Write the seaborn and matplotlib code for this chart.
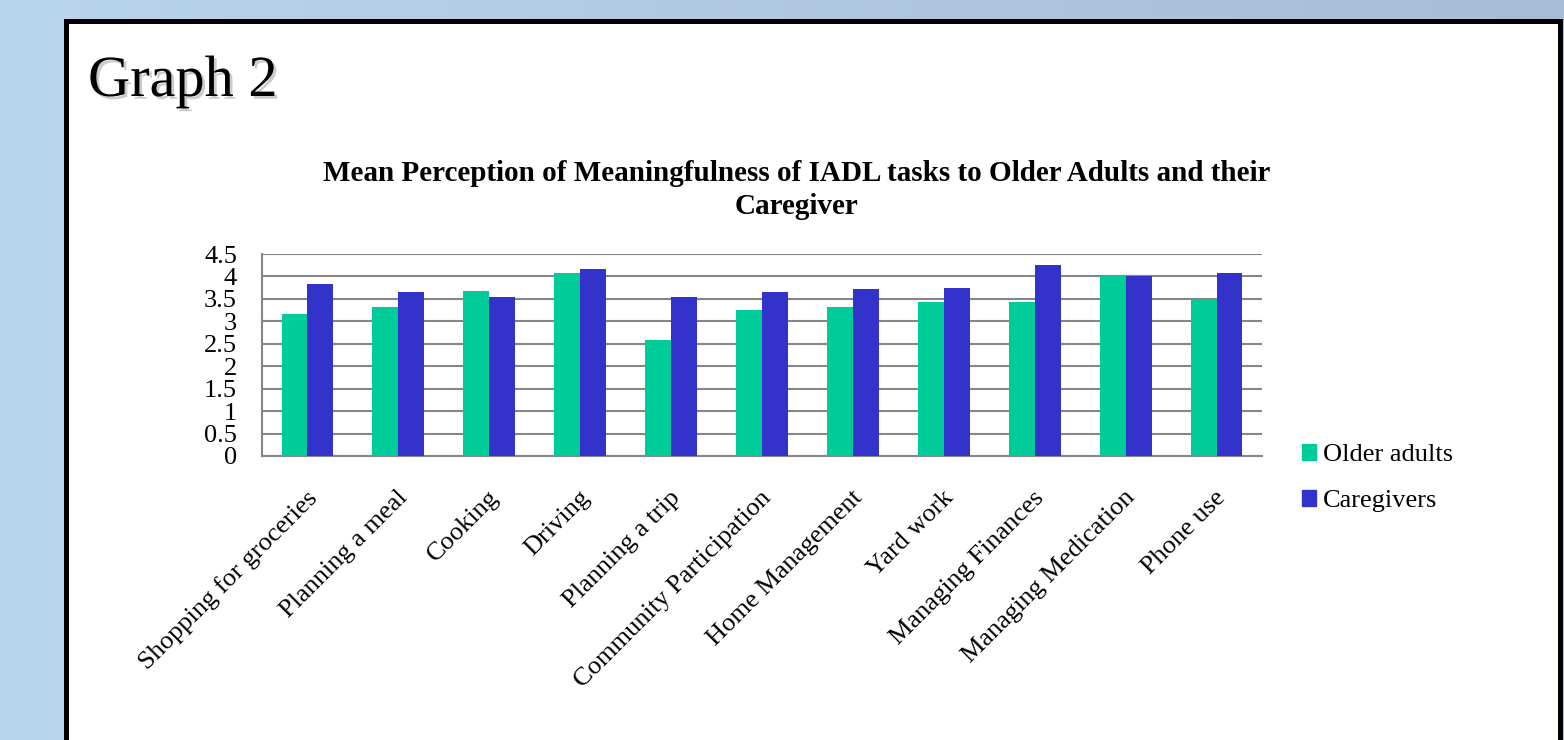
import numpy as np
import pandas as pd
import matplotlib
matplotlib.use("Agg")
import matplotlib.pyplot as plt
import matplotlib.patches as mpatches
import matplotlib.patheffects as pe
import matplotlib.transforms as mtrans
import seaborn as sns

categories = ["Shopping for groceries", "Planning a meal", "Cooking", "Driving",
              "Planning a trip", "Community Participation", "Home Management",
              "Yard work", "Managing Finances", "Managing Medication", "Phone use"]
older_adults = [3.17, 3.33, 3.67, 4.08, 2.58, 3.25, 3.33, 3.42, 3.42, 4.0, 3.5]
caregivers = [3.83, 3.65, 3.55, 4.17, 3.55, 3.65, 3.73, 3.75, 4.25, 4.0, 4.08]
series_names = ["Older adults", "Caregivers"]
yticks = [0, 0.5, 1, 1.5, 2, 2.5, 3, 3.5, 4, 4.5]
ytick_labels = ["0", "0.5", "1", "1.5", "2", "2.5", "3", "3.5", "4", "4.5"]
title = "Mean Perception of Meaningfulness of IADL tasks to Older Adults and their\nCaregiver"
heading = "Graph 2"

df = pd.DataFrame({
    "Task": categories * 2,
    "Series": [series_names[0]] * len(categories) + [series_names[1]] * len(categories),
    "Value": older_adults + caregivers,
})

sns.set_theme(style="white")
plt.rcParams["font.family"] = ["Liberation Serif", "DejaVu Serif"]
plt.rcParams["text.color"] = "black"
plt.rcParams["xtick.color"] = "black"
plt.rcParams["ytick.color"] = "black"
plt.rcParams["axes.labelcolor"] = "black"

W, H = 1564, 740
fig = plt.figure(figsize=(W / 100, H / 100), dpi=100)

# background gradient
bg = fig.add_axes([0, 0, 1, 1], zorder=0)
bg.set_axis_off()
c1 = np.array([185, 213, 235]) / 255
c2 = np.array([166, 189, 214]) / 255
t = np.linspace(0, 1, 256)
grad = (c1[None, :] * (1 - t[:, None]) + c2[None, :] * t[:, None])[None, :, :]
bg.imshow(grad, aspect="auto", extent=[0, 1, 0, 1])
bg.set_xlim(0, 1)
bg.set_ylim(0, 1)

def fx(px):
    return px / W

def fy(py):
    return 1 - py / H

panel = mpatches.Rectangle((fx(65.5), fy(760)), fx(1559.5) - fx(65.5), fy(20.5) - fy(760),
                           transform=fig.transFigure, facecolor="white",
                           edgecolor="black", linewidth=3.6, zorder=1)
fig.patches.append(panel)

fig.text(fx(88), fy(82), heading, fontsize=42, color="black", va="center", ha="left",
         path_effects=[pe.SimplePatchShadow(offset=(2, -2), alpha=0.4, shadow_rgbFace="gray"), pe.Normal()],
         zorder=5)

fig.text(fx(797), fy(190), title, fontsize=21, fontweight="bold", ha="center", va="center",
         linespacing=1.33, zorder=5)

ax = fig.add_axes([fx(262), fy(456), fx(1262) - fx(262), fy(254) - fy(456)], zorder=3)
palette = {"Older adults": "#00CC99", "Caregivers": "#3333CC"}
sns.barplot(data=df, x="Task", y="Value", hue="Series", hue_order=series_names,
            order=categories, palette=palette, width=0.57, saturation=1,
            linewidth=0, ax=ax, legend=False, zorder=3)

ax.set_ylim(0, 4.5)
ax.set_xlim(-0.5, len(categories) - 0.5)
ax.set_yticks(yticks)
ax.set_yticklabels(ytick_labels, fontsize=19)
ax.yaxis.grid(True, color="#868686", linewidth=1.5, zorder=0)
ax.set_axisbelow(True)
ax.set_xlabel("")
ax.set_ylabel("")
for s in ["top", "right"]:
    ax.spines[s].set_visible(False)
for s in ["left", "bottom"]:
    ax.spines[s].set_color("#868686")
    ax.spines[s].set_linewidth(1.5)
ax.tick_params(axis="y", length=0, pad=18)
ax.tick_params(axis="x", length=0, pad=22)
ax.set_xticks(range(len(categories)))
ax.set_xticklabels(categories, rotation=45, ha="right", rotation_mode="anchor", fontsize=19)
offset = mtrans.ScaledTranslation(-2 / 100, 0, fig.dpi_scale_trans)
for lab in ax.get_xticklabels():
    lab.set_transform(lab.get_transform() + offset)
ax.set_facecolor("white")

handles = [mpatches.Patch(color=palette[n], label=n) for n in series_names]
fig.legend(handles=handles, loc="center left", bbox_to_anchor=(fx(1278), fy(478)),
           frameon=False, fontsize=19, handlelength=0.55, handleheight=0.55,
           handletextpad=0.25, labelspacing=0.9)

fig.savefig("out.png", dpi=100)
